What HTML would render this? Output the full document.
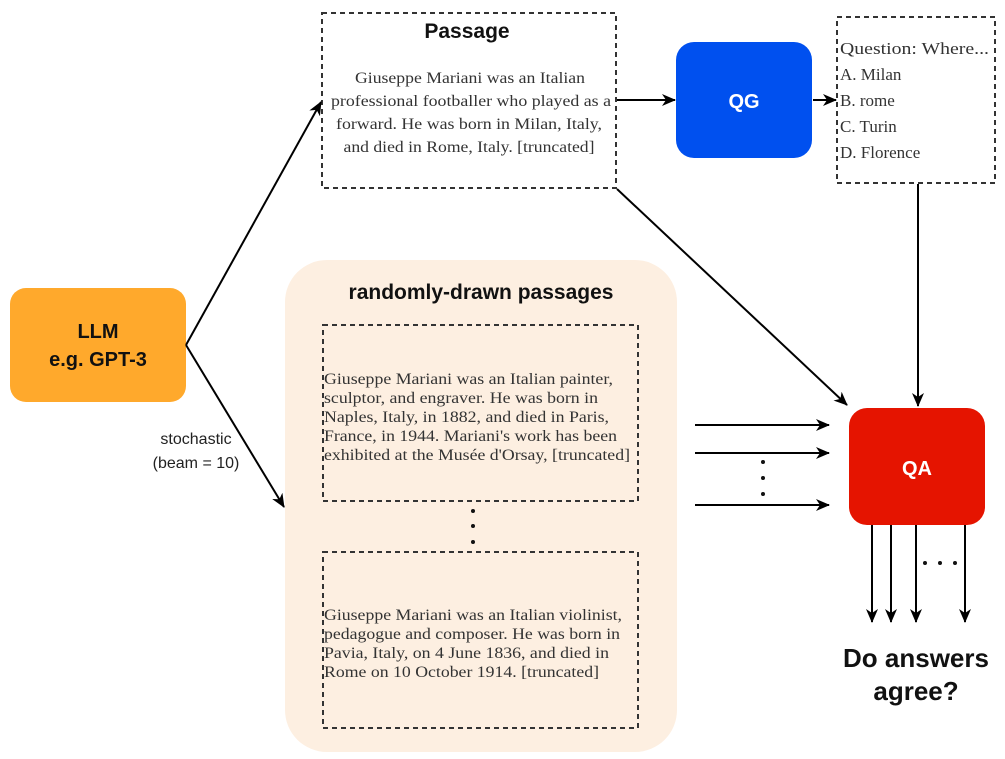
<!DOCTYPE html>
<html><head><meta charset="utf-8"><style>
html,body{margin:0;padding:0;background:#fff;}
svg{display:block;}
.s{font-family:"Liberation Sans",sans-serif;}
.r{font-family:"Liberation Serif",serif;fill:#333;font-size:16px;}
</style></head><body>
<svg width="1005" height="759" viewBox="0 0 1005 759" xmlns="http://www.w3.org/2000/svg">
<defs>
<marker id="a" markerWidth="14" markerHeight="12" refX="13" refY="6" orient="auto" markerUnits="userSpaceOnUse" viewBox="0 0 14 12">
<path d="M0,0 L14,6 L0,12 L4,6 z" fill="#000"/></marker>
</defs>
<rect x="285" y="260" width="392" height="492" rx="42" fill="#fdefe1"/>
<text x="481" y="299" class="s" font-size="21" font-weight="bold" text-anchor="middle" fill="#111">randomly-drawn passages</text>
<rect x="322" y="13" width="294" height="175" fill="none" stroke="#333" stroke-width="2" stroke-dasharray="5,4"/>
<text x="467" y="38" class="s" font-size="21" font-weight="bold" text-anchor="middle" fill="#111">Passage</text>
<g class="r" text-anchor="middle" lengthAdjust="spacingAndGlyphs">
<text x="470" y="83" textLength="230" lengthAdjust="spacingAndGlyphs">Giuseppe Mariani was an Italian</text>
<text x="471" y="106" textLength="280" lengthAdjust="spacingAndGlyphs">professional footballer who played as a</text>
<text x="469" y="129" textLength="266" lengthAdjust="spacingAndGlyphs">forward. He was born in Milan, Italy,</text>
<text x="469" y="152" textLength="251" lengthAdjust="spacingAndGlyphs">and died in Rome, Italy. [truncated]</text>
</g>
<rect x="676" y="42" width="136" height="116" rx="18" fill="#0050ef"/>
<text x="744" y="108" class="s" font-size="20" font-weight="bold" fill="#fff" text-anchor="middle">QG</text>
<rect x="837" y="17" width="158" height="166" fill="none" stroke="#333" stroke-width="2" stroke-dasharray="5,4"/>
<g class="r">
<text x="840" y="54" style="font-size:17px" textLength="149" lengthAdjust="spacingAndGlyphs">Question: Where...</text>
<text x="840" y="80" style="font-size:17px">A. Milan</text>
<text x="840" y="106" style="font-size:17px">B. rome</text>
<text x="840" y="132" style="font-size:17px">C. Turin</text>
<text x="840" y="158" style="font-size:17px">D. Florence</text>
</g>
<rect x="10" y="288" width="176" height="114" rx="16" fill="#ffa92c"/>
<text x="98" y="338" class="s" font-size="20" font-weight="bold" text-anchor="middle" fill="#111">LLM</text>
<text x="98" y="366" class="s" font-size="20" font-weight="bold" text-anchor="middle" fill="#111">e.g. GPT-3</text>
<text x="196" y="444" class="s" font-size="16" text-anchor="middle" fill="#222">stochastic</text>
<text x="196" y="468" class="s" font-size="16" text-anchor="middle" fill="#222">(beam = 10)</text>
<rect x="323" y="325" width="315" height="176" fill="none" stroke="#333" stroke-width="2" stroke-dasharray="5,4"/>
<g class="r">
<text x="324" y="384" textLength="289" lengthAdjust="spacingAndGlyphs">Giuseppe Mariani was an Italian painter,</text>
<text x="324" y="403" textLength="274" lengthAdjust="spacingAndGlyphs">sculptor, and engraver. He was born in</text>
<text x="324" y="422" textLength="285" lengthAdjust="spacingAndGlyphs">Naples, Italy, in 1882, and died in Paris,</text>
<text x="324" y="441" textLength="293" lengthAdjust="spacingAndGlyphs">France, in 1944. Mariani's work has been</text>
<text x="324" y="460" textLength="306" lengthAdjust="spacingAndGlyphs">exhibited at the Musée d'Orsay, [truncated]</text>
</g>
<circle cx="473" cy="511" r="2" fill="#111"/><circle cx="473" cy="526" r="2" fill="#111"/><circle cx="473" cy="542" r="2" fill="#111"/>
<rect x="323" y="552" width="315" height="176" fill="none" stroke="#333" stroke-width="2" stroke-dasharray="5,4"/>
<g class="r">
<text x="324" y="620" textLength="298" lengthAdjust="spacingAndGlyphs">Giuseppe Mariani was an Italian violinist,</text>
<text x="324" y="639" textLength="296" lengthAdjust="spacingAndGlyphs">pedagogue and composer. He was born in</text>
<text x="324" y="658" textLength="285" lengthAdjust="spacingAndGlyphs">Pavia, Italy, on 4 June 1836, and died in</text>
<text x="324" y="677" textLength="275" lengthAdjust="spacingAndGlyphs">Rome on 10 October 1914. [truncated]</text>
</g>
<rect x="849" y="408" width="136" height="117" rx="18" fill="#e51400"/>
<text x="917" y="475" class="s" font-size="20" font-weight="bold" fill="#fff" text-anchor="middle">QA</text>
<text x="916" y="667" class="s" font-size="26" font-weight="bold" text-anchor="middle" fill="#111">Do answers</text>
<text x="916" y="700" class="s" font-size="26" font-weight="bold" text-anchor="middle" fill="#111">agree?</text>
<g stroke="#000" stroke-width="2" fill="none" marker-end="url(#a)">
<line x1="186" y1="345" x2="321" y2="102"/>
<line x1="186" y1="345" x2="284" y2="507"/>
<line x1="617" y1="100" x2="675" y2="100"/>
<line x1="813" y1="100" x2="836" y2="100"/>
<line x1="617" y1="189" x2="847" y2="405"/>
<line x1="918" y1="184" x2="918" y2="406"/>
<line x1="695" y1="425" x2="829" y2="425"/>
<line x1="695" y1="453" x2="829" y2="453"/>
<line x1="695" y1="505" x2="829" y2="505"/>
<line x1="872" y1="525" x2="872" y2="622"/>
<line x1="891" y1="525" x2="891" y2="622"/>
<line x1="916" y1="525" x2="916" y2="622"/>
<line x1="965" y1="525" x2="965" y2="622"/>
</g>
<circle cx="763" cy="462" r="2" fill="#111"/><circle cx="763" cy="478" r="2" fill="#111"/><circle cx="763" cy="494" r="2" fill="#111"/>
<circle cx="925" cy="563" r="2" fill="#111"/><circle cx="940" cy="563" r="2" fill="#111"/><circle cx="955" cy="563" r="2" fill="#111"/>
</svg>
</body></html>
